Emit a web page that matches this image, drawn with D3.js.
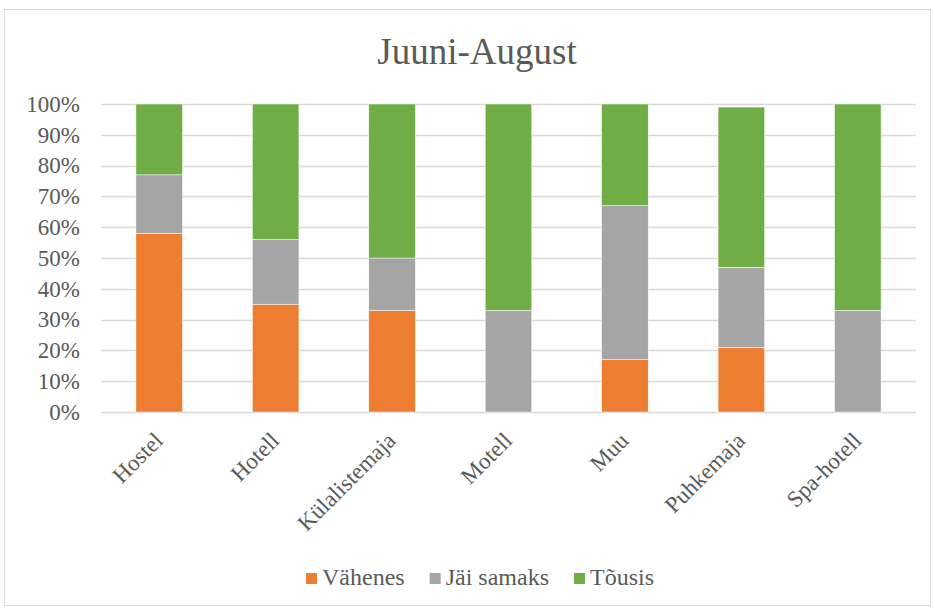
<!DOCTYPE html>
<html>
<head>
<meta charset="utf-8">
<script src="https://cdn.jsdelivr.net/npm/d3@7"></script>
<style>
  body { margin: 0; background: #fff; }
  svg text { font-family: "Liberation Serif", "Times New Roman", serif; fill: #595959; }
</style>
</head>
<body>
<svg id="chart" width="935" height="610"></svg>
<script>
// data
const categories = ["Hostel", "Hotell", "Külalistemaja", "Motell", "Muu", "Puhkemaja", "Spa-hotell"];
const seriesNames = ["Vähenes", "Jäi samaks", "Tõusis"];
const vahenes = [58, 35, 33, 0, 17, 21, 0];
const jaiSamaks = [19, 21, 17, 33, 50, 26, 33];
const tousis = [23, 44, 50, 67, 33, 52, 67];
const yTicks = [0, 10, 20, 30, 40, 50, 60, 70, 80, 90, 100];
const colors = ["#ED7D31", "#A5A5A5", "#70AD47"];

const rows = categories.map((c, i) => ({cat: c, "Vähenes": vahenes[i], "Jäi samaks": jaiSamaks[i], "Tõusis": tousis[i]}));
const stacked = d3.stack().keys(seriesNames)(rows);

const svg = d3.select("#chart");
const W = 935, H = 610;
const margin = {left: 101, right: 19, top: 104, bottom: 198};
const FONT = '"Liberation Serif", "Times New Roman", serif';

// outer chart border
svg.append("rect")
  .attr("x", 4.5).attr("y", 9.5)
  .attr("width", W - 9).attr("height", H - 14)
  .attr("fill", "#fff").attr("stroke", "#D9D9D9");

svg.append("text")
  .attr("x", 477).attr("y", 64)
  .attr("text-anchor", "middle")
  .style("font-size", "37px")
  .text("Juuni-August");

const x = d3.scaleBand()
  .domain(categories)
  .range([margin.left, W - margin.right])
  .paddingInner(0.6).paddingOuter(0.3);

const y = d3.scaleLinear()
  .domain([0, 100])
  .range([H - margin.bottom, margin.top]);

// gridlines
svg.append("g")
  .selectAll("line")
  .data(yTicks)
  .join("line")
  .attr("x1", margin.left).attr("x2", W - margin.right)
  .attr("y1", d => Math.round(y(d)) + 0.5).attr("y2", d => Math.round(y(d)) + 0.5)
  .attr("stroke", "#D9D9D9").attr("stroke-width", 1.3);

// y axis labels
const yAxis = d3.axisLeft(y).tickValues(yTicks).tickFormat(d => d + "%").tickSize(0).tickPadding(21);
svg.append("g")
  .attr("transform", `translate(${margin.left},0)`)
  .call(yAxis)
  .attr("font-family", null).attr("font-size", null)
  .call(g => g.select(".domain").remove())
  .call(g => g.selectAll("text")
    .style("font-family", FONT)
    .style("font-size", "23px")
    .style("fill", "#595959"));

// bars
svg.append("g")
  .selectAll("g")
  .data(stacked)
  .join("g")
  .attr("fill", (d, i) => colors[i])
  .selectAll("rect")
  .data(d => d)
  .join("rect")
  .attr("x", d => x(d.data.cat))
  .attr("width", x.bandwidth())
  .attr("y", d => y(d[1]))
  .attr("height", d => y(d[0]) - y(d[1]))
  .attr("stroke", "#fff").attr("stroke-width", 0.5);

// x axis labels, rotated
const xAxis = d3.axisBottom(x).tickSize(0).tickPadding(0);
svg.append("g")
  .attr("transform", `translate(0,${y(0)})`)
  .call(xAxis)
  .attr("font-family", null).attr("font-size", null)
  .call(g => g.select(".domain").remove())
  .call(g => g.selectAll("text")
    .style("font-family", FONT)
    .style("font-size", "23px")
    .style("fill", "#595959")
    .attr("text-anchor", "end")
    .attr("dy", null)
    .attr("y", 0)
    .attr("transform", "translate(5,30) rotate(-45)"));

// legend
const legend = svg.append("g").attr("transform", "translate(0,573)");
const items = legend.selectAll("g")
  .data(seriesNames)
  .join("g");
items.append("rect")
  .attr("width", 11).attr("height", 11)
  .attr("fill", (d, i) => colors[i]);
items.append("text")
  .attr("x", 16).attr("y", 12)
  .style("font-size", "24px")
  .text(d => d);
let cx = 0;
const offsets = [];
items.each(function() {
  offsets.push(cx);
  cx += 16 + this.querySelector("text").getComputedTextLength() + 25;
});
const total = cx - 25;
const start = 480 - total / 2;
items.attr("transform", (d, i) => `translate(${start + offsets[i]},0)`);
</script>
</body>
</html>
